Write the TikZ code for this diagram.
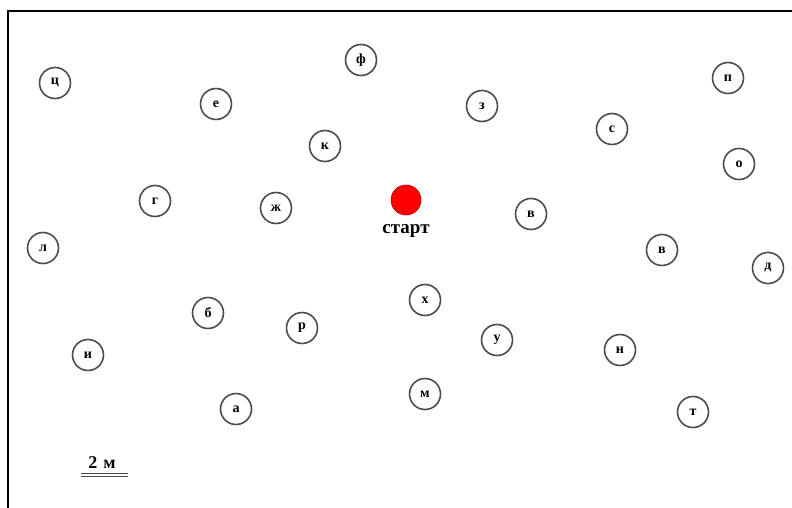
\documentclass[tikz,border=0pt]{standalone}
\usepackage{fontspec}
\setmainfont{Liberation Serif}
\begin{document}
\begin{tikzpicture}[x=1pt,y=-1pt,
  spot/.style={circle,draw=black!70,line width=1.6pt,minimum size=31pt,inner sep=0pt,font=\bfseries\fontsize{14}{14}\selectfont},
  startdot/.style={circle,fill=red,draw=red!70!black,line width=0.6pt,minimum size=30pt,inner sep=0pt},
  lbl/.style={font=\bfseries\fontsize{19}{19}\selectfont,inner sep=0pt}]
\useasboundingbox (0,0) rectangle (792,508);
\draw[line width=1.6pt] (8,508) -- (8,11) -- (792,11);
\node[spot] (c1) at (55,83) {ц};
\node[spot] (e1) at (216,104) {е};
\node[spot] (f1) at (361,60) {ф};
\node[spot] (k1) at (325,146) {к};
\node[spot] (g1) at (155,201) {г};
\node[spot] (zh1) at (276,208) {ж};
\node[spot] (l1) at (43,248) {л};
\node[startdot] (st) at (406,200) {};
\node[lbl,anchor=base] (stl) at (406,233) {старт};
\node[spot] (z1) at (482,106) {з};
\node[spot] (s1) at (612,129) {с};
\node[spot] (p1) at (728,78) {п};
\node[spot] (o1) at (739,164) {о};
\node[spot] (v1) at (531,214) {в};
\node[spot] (v2) at (662,250) {в};
\node[spot] (d1) at (768,268) {д};
\node[spot] (b1) at (208,313) {б};
\node[spot] (r1) at (302,328) {р};
\node[spot] (i1) at (88,355) {и};
\node[spot] (a1) at (236,409) {а};
\node[spot] (h1) at (425,300) {х};
\node[spot] (u1) at (497,340) {у};
\node[spot] (n1) at (620,350) {н};
\node[spot] (m1) at (425,394) {м};
\node[spot] (t1) at (693,412) {т};
\node[lbl,font=\bfseries\fontsize{18}{18}\selectfont,anchor=base] (sc) at (102,468) {2\,\,м};
\coordinate (u1a) at (81,473);
\coordinate (u1b) at (128,473);
\coordinate (u2a) at (81,476.5);
\coordinate (u2b) at (128,476.5);
\draw[line width=1pt,black!70] (u1a) -- (u1b);
\draw[line width=1pt,black!70] (u2a) -- (u2b);
\end{tikzpicture}
\end{document}
